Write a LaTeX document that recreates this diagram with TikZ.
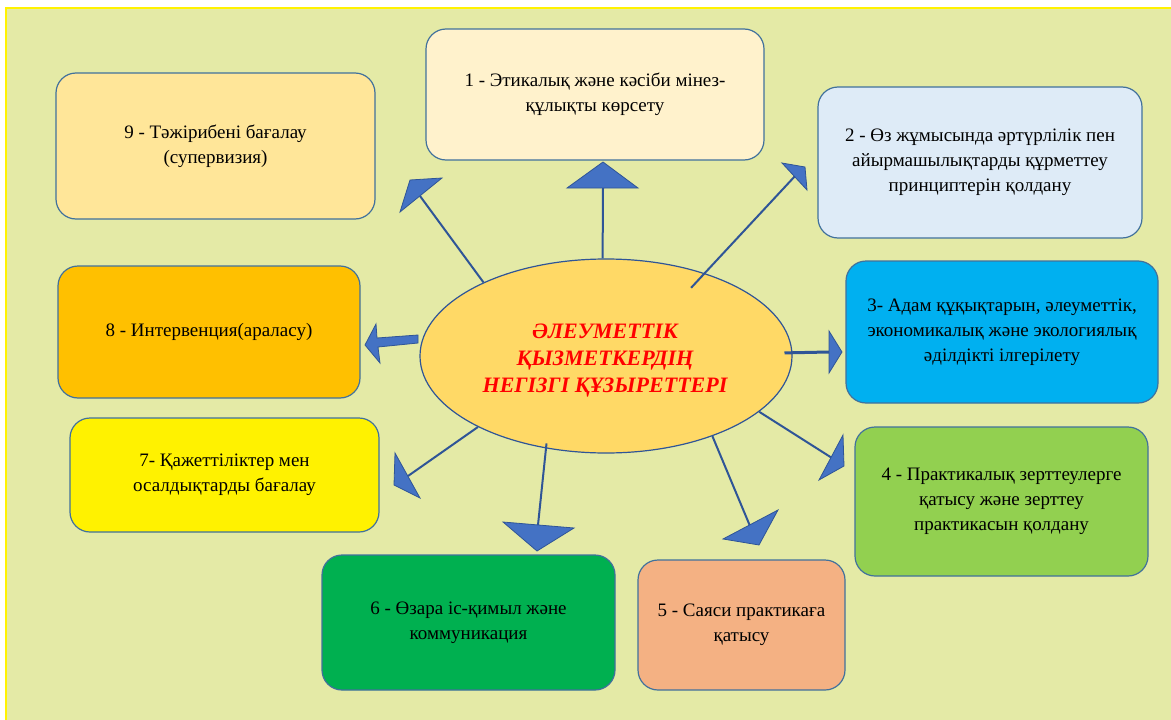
\documentclass[tikz,border=0pt]{standalone}
\usepackage{fontspec}
\setmainfont{Liberation Serif}
\usepackage{tikz}
\usetikzlibrary{shapes.geometric}

\definecolor{bggreen}{HTML}{E4EAA6}
\definecolor{edgeblue}{HTML}{41719C}
\definecolor{lineblue}{HTML}{2F5597}
\definecolor{headblue}{HTML}{4472C4}
\definecolor{coreyellow}{HTML}{FFD966}

\tikzstyle{box} = [rectangle, rounded corners=20pt, draw=edgeblue, line width=1.2pt, align=center, text centered, inner sep=0pt, font=\fontsize{19}{25}\selectfont]
\tikzstyle{core} = [ellipse, draw=lineblue, line width=1.2pt, fill=coreyellow, minimum width=372pt, minimum height=194pt, inner sep=0pt]
\tikzstyle{coretext} = [align=center, text=red, inner sep=0pt, font=\fontsize{22}{27}\selectfont\bfseries\itshape]
\tikzstyle{link} = [draw=lineblue, line width=2pt]
\tikzstyle{head} = [fill=headblue, draw=lineblue, line width=0.8pt, line join=miter]

\begin{document}
\begin{tikzpicture}[x=1pt, y=-1pt]

\useasboundingbox (0,0) rectangle (1171,720);
\fill[bggreen] (6,8) rectangle (1171,720);
\draw[yellow, line width=2pt] (6,720) -- (6,8) -- (1171,8);

% boxes
\node (b1) [box, fill={rgb,255:red,255;green,242;blue,204}, minimum width=338pt, minimum height=131pt] at (595,94.5) {1 - Этикалық және кәсіби мінез-\\құлықты көрсету};
\node (b2) [box, fill={rgb,255:red,222;green,235;blue,247}, minimum width=324pt, minimum height=151pt] at (980,162.5) {2 - Өз жұмысында әртүрлілік пен\\айырмашылықтарды құрметтеу\\принциптерін қолдану};
\node (b3) [box, fill={rgb,255:red,0;green,176;blue,240}, minimum width=312pt, minimum height=142pt] at (1002,332) {3- Адам құқықтарын, әлеуметтік,\\экономикалық және экологиялық\\әділдікті ілгерілету};
\node (b4) [box, fill={rgb,255:red,146;green,208;blue,80}, minimum width=293pt, minimum height=149pt] at (1001.5,501.5) {4 - Практикалық зерттеулерге\\қатысу және зерттеу\\практикасын қолдану};
\node (b5) [box, fill={rgb,255:red,244;green,177;blue,131}, minimum width=207pt, minimum height=130pt] at (741.5,625) {5 - Саяси практикаға\\қатысу};
\node (b6) [box, fill={rgb,255:red,0;green,176;blue,80}, minimum width=293pt, minimum height=135pt] at (468.5,622.5) {6 - Өзара іс-қимыл және\\коммуникация};
\node (b7) [box, fill=yellow, minimum width=309pt, minimum height=114pt] at (224.5,475) {7- Қажеттіліктер мен\\осалдықтарды бағалау};
\node (b8) [box, fill={rgb,255:red,255;green,192;blue,0}, minimum width=302pt, minimum height=132pt] at (209,332) {8 - Интервенция(араласу)};
\node (b9) [box, fill={rgb,255:red,255;green,230;blue,153}, minimum width=319pt, minimum height=146pt] at (215.5,146) {9 - Тәжірибені бағалау\\(супервизия)};

% centre
\node (core) [core] at (606,356) {};
\node (title) [coretext] at (605,361) {ӘЛЕУМЕТТІК\\ҚЫЗМЕТКЕРДІҢ\\НЕГІЗГІ ҚҰЗЫРЕТТЕРІ};

% arrow ends
\coordinate (e1) at (603,188);
\coordinate (e2) at (796,175);
\coordinate (e3) at (829,352);
\coordinate (e4) at (832,458);
\coordinate (e5) at (750,526);
\coordinate (e6) at (538,525);
\coordinate (e7) at (408,476);
\coordinate (e9) at (420,196);

\draw [link] (core.92) -- (e1);
\draw [link, shorten <=-20pt] (core.40.4) -- (e2);
\draw [link, line width=3pt, shorten <=-8pt] (core.1) -- (e3);
\draw [link] (core.-20.6) -- (e4);
\draw [link] (core.-37.7) -- (e5);
\draw [link, shorten <=-5pt] (core.237) -- (e6);
\draw [link] (core.209.6) -- (e7);
\draw [link] (core.149.7) -- (e9);

% heads
\filldraw [head] (567,188) -- (638,188) -- (603,162) -- cycle;
\filldraw [head] (782,163) -- (805,167) -- (807,190) -- cycle;
\filldraw [head] (829,331) -- (842,352) -- (829,373) -- cycle;
\filldraw [head] (843,435) -- (844,466) -- (819,480) -- cycle;
\filldraw [head] (778,510) -- (759,545) -- (723,539) -- cycle;
\filldraw [head] (503,522) -- (574,528) -- (537,551) -- cycle;
\filldraw [head] (395,453) -- (394,485) -- (420,498) -- cycle;
\filldraw [head] (410,180) -- (442,178) -- (400,212) -- cycle;
% block arrow to box 8
\filldraw [head] (418,335) -- (418,343) -- (378,347) -- (380,363) -- (365,345) -- (376,324) -- (377,338) -- cycle;

\end{tikzpicture}
\end{document}
